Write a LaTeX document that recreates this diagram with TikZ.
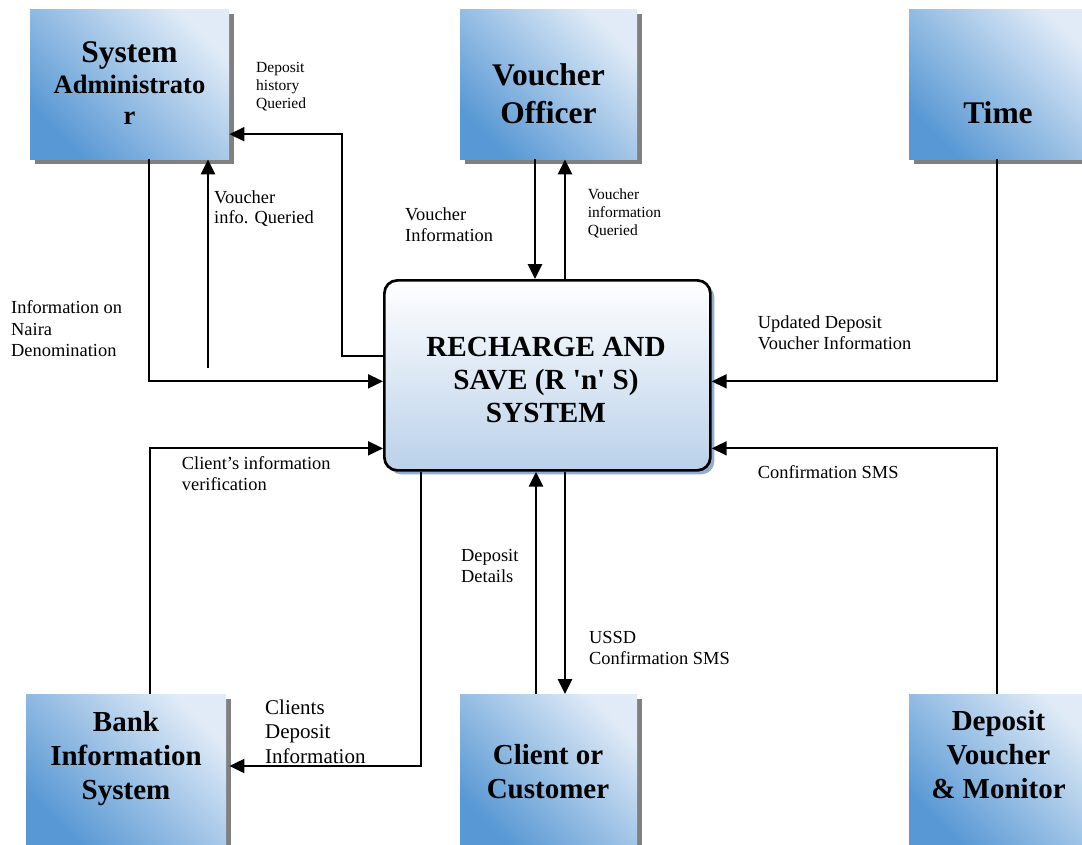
\documentclass[tikz,border=0pt]{standalone}
\usepackage{fontspec}
\setmainfont{Liberation Serif}
\usetikzlibrary{arrows.meta,shadows,calc}
\definecolor{boxlight}{RGB}{224,235,247}
\definecolor{boxdark}{RGB}{88,152,212}
\definecolor{coretop}{RGB}{255,255,255}
\definecolor{corebottom}{RGB}{186,209,234}
\definecolor{coreshadow}{RGB}{150,172,204}
\definecolor{entshadow}{RGB}{128,128,128}
\begin{document}
\begin{tikzpicture}[x=1pt,y=-1pt,
  entity/.style={anchor=north west, inner sep=0pt, minimum height=150pt,
    top color=boxlight, bottom color=boxdark, shading angle=-45,
    drop shadow={shadow xshift=5pt, shadow yshift=-5pt, fill=entshadow, opacity=1}},
  enttext/.style={inner sep=0pt, align=center, font=\bfseries\fontsize{31.5}{38}\selectfont},
  core/.style={anchor=north west, inner sep=0pt, minimum width=326pt, minimum height=190pt,
    rounded corners=13pt, draw=black, line width=2.7pt,
    top color=coretop, bottom color=corebottom,
    drop shadow={shadow xshift=4pt, shadow yshift=-4pt, fill=coreshadow, opacity=1}},
  lbl/.style={anchor=north west, inner sep=0pt, align=left, font=\fontsize{18.4}{20.7}\selectfont},
  small/.style={font=\fontsize{15.5}{18}\selectfont},
  flow/.style={line width=2pt, -{Triangle[length=15pt,width=14pt]}},
  bold flow/.style={flow, line width=2.7pt},
]
\fill[white] (0,0) rectangle (1082,844);
\useasboundingbox (0,0) rectangle (1082,844);
\clip (0,0) rectangle (1082,844);

% external entities
\node[entity, minimum width=199pt] (sa)   at (30,9)   {};
\node[entity, minimum width=177pt] (vo)   at (460,9)  {};
\node[entity, minimum width=185pt] (tm)   at (909,9)  {};
\node[entity, minimum width=200pt] (bank) at (26,694) {};
\node[entity, minimum width=177pt] (cc)   at (460,694){};
\node[entity, minimum width=185pt] (dvm)  at (909,694){};

\node[enttext, font=\bfseries\fontsize{26.5}{31}\selectfont] (satext) at (129.5,83)
  {{\fontsize{31.5}{31}\selectfont System}\\Administrato\\r};
\node[enttext] (votext) at (548.5,93.4) {Voucher\\Officer};
\node[enttext] (tmtext) at (998,112.5) {Time};
\node[enttext, font=\bfseries\fontsize{29}{34}\selectfont] (banktext) at (126,758.4)
  {Bank\\Information\\System};
\node[enttext, font=\bfseries\fontsize{29}{34}\selectfont] (cctext) at (548,772)
  {Client or\\Customer};
\node[enttext, font=\bfseries\fontsize{29}{34}\selectfont] (dvmtext) at (998.5,755)
  {Deposit\\Voucher\\\& Monitor};

% central process
\node[core] (rns) at (383,279) {};
\node[enttext, font=\bfseries\fontsize{29.2}{33}\selectfont] (rnstext) at (546,380.3)
  {RECHARGE AND\\SAVE (R \textquotesingle n\textquotesingle{} S)\\SYSTEM};

% data flows
\coordinate (viqStart) at (208,368);
\draw[flow] ($(sa.south west)+(119,0)$) |- ($(rns.west)+(0,6)$);
\draw[bold flow] (viqStart) -- ($(sa.south west)+(178,0)$);
\draw[flow] ($(rns.west)+(0,-19)$) -| ($(sa.east)+(113,50)$) -- ($(sa.east)+(0,50)$);
\draw[bold flow] ($(vo.south west)+(75,0)$) -- ($(rns.north west)+(152,0)$);
\draw[bold flow] ($(rns.north west)+(182,0)$) -- ($(vo.south west)+(105,0)$);
\draw[flow] ($(tm.south west)+(88,0)$) |- ($(rns.east)+(0,6)$);
\draw[flow] ($(dvm.north west)+(88,0)$) |- ($(rns.east)+(0,73)$);
\draw[flow] ($(bank.north west)+(124,0)$) |- ($(rns.west)+(0,73)$);
\draw[flow] ($(rns.south west)+(38,0)$) |- ($(bank.north east)+(3,72)$);
\draw[bold flow] ($(cc.north west)+(76,0)$) -- ($(rns.south west)+(153,0)$);
\draw[bold flow] ($(rns.south west)+(182,0)$) -- ($(cc.north west)+(105,0)$);

% flow labels
\node[lbl, small] (lDHQ) at (256,62.2) {Deposit\\history\\Queried};
\node[lbl] (lVIQ) at (214,190.2) {Voucher\\info. Queried};
\node[lbl, font=\fontsize{18.4}{21.4}\selectfont] (lNaira) at (11,300.8) {Information on\\Naira\\Denomination};
\node[lbl] (lVI) at (405,207.5) {Voucher\\Information};
\node[lbl, small] (lVIQD) at (587.7,188.8) {Voucher\\information\\Queried};
\node[lbl] (lUDVI) at (757.7,315.8) {Updated Deposit\\Voucher Information};
\node[lbl] (lCSMS) at (757.7,465.8) {Confirmation SMS};
\node[lbl] (lCIV) at (181.7,456.8) {Client’s information\\verification};
\node[lbl, font=\fontsize{21}{24.3}\selectfont] (lCDI) at (265,699.7) {Clients\\Deposit\\Information};
\node[lbl, font=\fontsize{18.4}{21}\selectfont] (lDD) at (461,549.2) {Deposit\\Details};
\node[lbl] (lUSSD) at (589,631.5) {USSD\\Confirmation SMS};
\end{tikzpicture}
\end{document}
